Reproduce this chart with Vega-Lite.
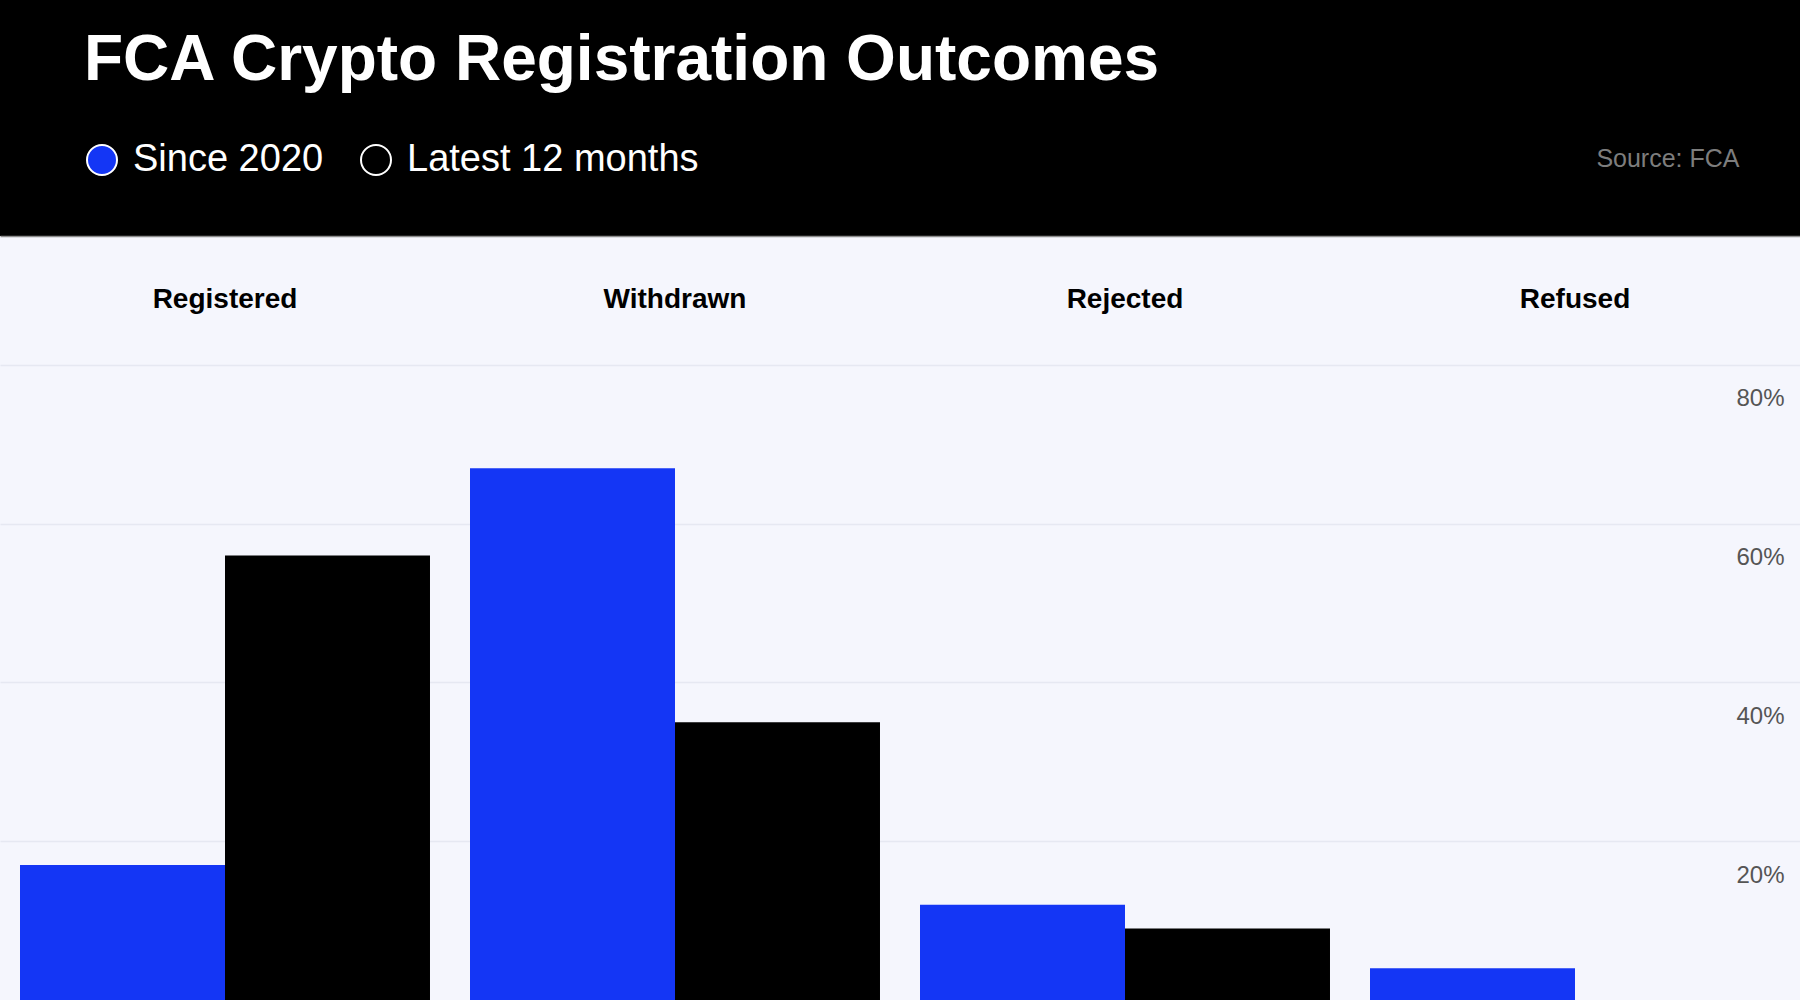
{
  "$schema": "https://vega.github.io/schema/vega-lite/v6.json",
  "width": 1800,
  "height": 764,
  "autosize": {"type": "none"},
  "padding": {"top": 236, "left": 0, "right": 0, "bottom": 0},
  "background": "#000000",
  "title": {
    "text": "FCA Crypto Registration Outcomes",
    "anchor": "start",
    "dx": 84,
    "offset": -3,
    "baseline": "alphabetic",
    "font": "Liberation Sans",
    "fontSize": 64,
    "fontWeight": "bold",
    "color": "#ffffff"
  },
  "data": {
    "values": [
      {"outcome": "Registered", "period": "Since 2020", "share": 17},
      {"outcome": "Registered", "period": "Latest 12 months", "share": 56},
      {"outcome": "Withdrawn", "period": "Since 2020", "share": 67},
      {"outcome": "Withdrawn", "period": "Latest 12 months", "share": 35},
      {"outcome": "Rejected", "period": "Since 2020", "share": 12},
      {"outcome": "Rejected", "period": "Latest 12 months", "share": 9},
      {"outcome": "Refused", "period": "Since 2020", "share": 4},
      {"outcome": "Refused", "period": "Latest 12 months", "share": 0}
    ]
  },
  "mark": {"type": "bar"},
  "encoding": {
    "x": {
      "field": "outcome",
      "type": "nominal",
      "sort": ["Registered", "Withdrawn", "Rejected", "Refused"],
      "scale": {"paddingInner": 0, "paddingOuter": 0},
      "axis": {
        "orient": "top",
        "title": null,
        "labelAngle": 0,
        "labelFont": "Liberation Sans",
        "labelFontSize": 28,
        "labelFontWeight": "bold",
        "labelColor": "#000000",
        "labelPadding": -71,
        "labelBaseline": "alphabetic",
        "ticks": false,
        "tickSize": 0,
        "domain": true,
        "domainColor": "#8c8c8c",
        "domainWidth": 1.5,
        "grid": false
      }
    },
    "xOffset": {
      "field": "period",
      "type": "nominal",
      "sort": ["Since 2020", "Latest 12 months"],
      "scale": {"paddingInner": 0, "paddingOuter": 0.0976}
    },
    "y": {
      "field": "share",
      "type": "quantitative",
      "scale": {"domain": [0, 96.25], "nice": false, "zero": true},
      "axis": {
        "orient": "right",
        "values": [20, 40, 60, 80],
        "labelExpr": "datum.value + '%'",
        "labelFont": "Liberation Sans",
        "labelFontSize": 24,
        "labelColor": "#555555",
        "labelAlign": "right",
        "labelBaseline": "alphabetic",
        "labelPadding": -16,
        "labelOffset": 41,
        "ticks": false,
        "tickSize": 0,
        "domain": false,
        "grid": true,
        "gridColor": "#e6e8f2",
        "gridWidth": 1.5,
        "title": "Source: FCA",
        "titleAngle": 0,
        "titleAlign": "right",
        "titleBaseline": "middle",
        "titleX": -61,
        "titleY": -78,
        "titleFont": "Liberation Sans",
        "titleFontSize": 25,
        "titleFontWeight": "normal",
        "titleColor": "#7d7d7d"
      }
    },
    "color": {
      "field": "period",
      "type": "nominal",
      "scale": {"domain": ["Since 2020", "Latest 12 months"], "range": ["#1436f5", "#000000"]},
      "legend": {
        "orient": "none",
        "legendX": 83,
        "legendY": -95,
        "direction": "horizontal",
        "title": null,
        "symbolType": "circle",
        "symbolSize": 900,
        "symbolStrokeColor": "#ffffff",
        "symbolStrokeWidth": 2,
        "labelFont": "Liberation Sans",
        "labelFontSize": 38,
        "labelColor": "#ffffff",
        "labelOffset": 12,
        "columnPadding": 33,
        "padding": 0,
        "labelLimit": 0
      }
    }
  },
  "config": {
    "view": {"fill": "#f5f6fd", "stroke": null},
    "font": "Liberation Sans"
  }
}
